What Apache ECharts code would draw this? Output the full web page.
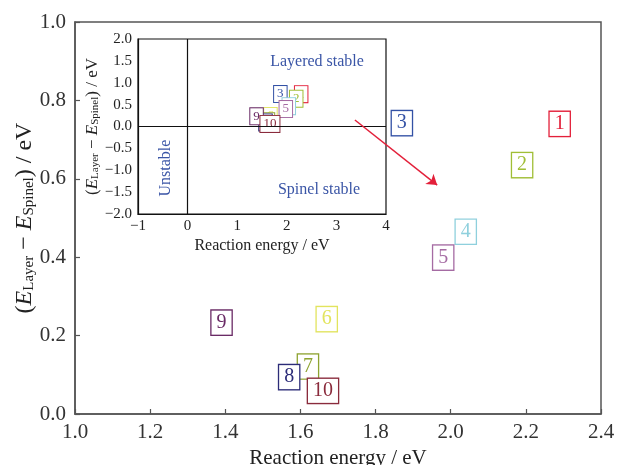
<!DOCTYPE html>
<html>
<head>
<meta charset="utf-8">
<script src="https://cdn.jsdelivr.net/npm/echarts@6/dist/echarts.min.js"></script>
<style>
  html, body { margin: 0; padding: 0; background: #fff; }
  #chart { width: 617px; height: 465px; }
</style>
</head>
<body>
<div id="chart"></div>
<script>
// sample numbers and their values
const sampleIds = ["1", "2", "3", "4", "5", "6", "7", "8", "9", "10"];
const reactionEnergy = [2.29, 2.19, 1.87, 2.04, 1.98, 1.67, 1.62, 1.57, 1.39, 1.66];
const energyDiff = [0.74, 0.635, 0.742, 0.465, 0.399, 0.242, 0.121, 0.094, 0.233, 0.059];
const sampleColors = ["#e3203a", "#a0be36", "#3351a5", "#8fd0dd", "#a56ba3",
                      "#e2e45e", "#8ea330", "#2c2c78", "#6a2b66", "#8a2b3c"];

// red arrow in the main panel (data coords)
const arrowFrom = [1.745, 0.75];
const arrowTo = [1.964, 0.584];

// inset region notes (data coords of the inset)
const insetNotes = [
  { text: "Layered stable", at: [2.61, 1.47], rotate: 0 },
  { text: "Spinel stable", at: [2.65, -1.45], rotate: 0 },
  { text: "Unstable", at: [-0.44, -0.95], rotate: 90 },
];

const serif = "Liberation Serif";
const noteBlue = "#3a55a6";

const chart = echarts.init(document.getElementById("chart"));

const boxData = () =>
  reactionEnergy.map((x, i) => ({
    value: [x, energyDiff[i]],
    name: sampleIds[i],
    label: { color: sampleColors[i], borderColor: sampleColors[i] },
  }));

const minusFmt = (digits) => (v) =>
  (v < 0 ? "\u2212" : "") + Math.abs(v).toFixed(digits);

const yName = (big, small) => ({
  name: "{p|(}{i|E}{s|Layer}{p| \u2212 }{i|E}{s|Spinel}{p|) / eV}",
  nameMoveOverlap: false,
  nameTextStyle: {
    fontFamily: serif,
    color: "#222",
    rich: {
      p: { fontFamily: serif, fontSize: big, color: "#222", verticalAlign: "bottom", lineHeight: big + 4 },
      i: { fontFamily: serif, fontSize: big, fontStyle: "italic", color: "#222", verticalAlign: "bottom", lineHeight: big + 4 },
      s: { fontFamily: serif, fontSize: small, color: "#222", verticalAlign: "bottom", lineHeight: small },
    },
  },
});

const option = {
  backgroundColor: "#fff",
  animation: false,
  grid: [
    { left: 75, right: 16, top: 22, bottom: 51, show: true, borderColor: "#555", borderWidth: 1.5,
      outerBoundsMode: "none", containLabel: false },
    { left: 138, right: 231, top: 39, bottom: 251, show: true, borderColor: "#111", borderWidth: 1.2,
      outerBoundsMode: "none", containLabel: false },
  ],
  xAxis: [
    {
      gridIndex: 0, type: "value", min: 1.0, max: 2.4, interval: 0.2,
      name: "Reaction energy / eV", nameLocation: "middle", nameGap: 26,
      nameTextStyle: { fontFamily: serif, fontSize: 21, color: "#222" },
      axisLine: { lineStyle: { color: "#555", width: 1.5 } },
      axisTick: { inside: true, length: 5, lineStyle: { color: "#555", width: 1.2 } },
      axisLabel: { fontFamily: serif, fontSize: 21, color: "#333", margin: 8, formatter: (v) => v.toFixed(1) },
      splitLine: { show: false },
    },
    {
      gridIndex: 1, type: "value", min: -1, max: 4, interval: 1,
      name: "Reaction energy / eV", nameLocation: "middle", nameGap: 24,
      nameTextStyle: { fontFamily: serif, fontSize: 16, color: "#222" },
      axisLine: { onZero: false, lineStyle: { color: "#111", width: 1.2 } },
      axisTick: { show: false },
      axisLabel: { fontFamily: serif, fontSize: 15, color: "#222", margin: 5, formatter: minusFmt(0) },
      splitLine: { show: false },
    },
  ],
  yAxis: [
    Object.assign({
      gridIndex: 0, type: "value", min: 0, max: 1.0, interval: 0.2,
      nameLocation: "middle", nameGap: 38, nameRotate: 90,
      axisLine: { lineStyle: { color: "#555", width: 1.5 } },
      axisTick: { inside: true, length: 5, lineStyle: { color: "#555", width: 1.2 } },
      axisLabel: { fontFamily: serif, fontSize: 21, color: "#333", margin: 9, formatter: (v) => v.toFixed(1) },
      splitLine: { show: false },
    }, yName(24, 15)),
    Object.assign({
      gridIndex: 1, type: "value", min: -2, max: 2, interval: 0.5,
      nameLocation: "middle", nameGap: 37, nameRotate: 90,
      axisLine: { onZero: false, lineStyle: { color: "#111", width: 1.2 } },
      axisTick: { show: false },
      axisLabel: { fontFamily: serif, fontSize: 15, color: "#222", margin: 6, formatter: minusFmt(1) },
      splitLine: { show: false },
    }, yName(17, 11)),
  ],
  series: [
    {
      type: "scatter", xAxisIndex: 1, yAxisIndex: 1,
      symbolSize: 1, itemStyle: { color: "rgba(0,0,0,0)", opacity: 1 },
      data: boxData(),
      label: {
        show: true, position: "inside", formatter: (p) => p.name,
        fontFamily: serif, fontSize: 13, lineHeight: 13,
        backgroundColor: "#fff", borderWidth: 1, padding: [2, 3, 1, 3],
      },
      markLine: {
        silent: true, symbol: "none", label: { show: false },
        lineStyle: { color: "#111", width: 1.2, type: "solid" },
        data: [{ xAxis: 0 }, { yAxis: 0 }],
      },
      markPoint: {
        silent: true, symbol: "circle", symbolSize: 0,
        data: insetNotes.map((n) => ({
          coord: n.at,
          label: {
            show: true, position: "inside", formatter: n.text, rotate: n.rotate,
            fontFamily: serif, fontSize: 16, color: noteBlue,
          },
        })),
      },
      z: 3,
    },
    {
      type: "scatter", xAxisIndex: 0, yAxisIndex: 0,
      symbolSize: 1, itemStyle: { color: "rgba(0,0,0,0)", opacity: 1 },
      data: boxData(),
      label: {
        show: true, position: "inside", formatter: (p) => p.name,
        fontFamily: serif, fontSize: 20, lineHeight: 20,
        backgroundColor: "#fff", borderWidth: 1.3, padding: [3, 5, 1, 5],
      },
      markLine: {
        silent: true, symbol: ["none", "arrow"], symbolSize: 10,
        label: { show: false },
        lineStyle: { color: "#e3203a", width: 1.5, type: "solid" },
        data: [[{ coord: arrowFrom }, { coord: arrowTo }]],
      },
      z: 4,
    },
  ],
};

chart.setOption(option);
</script>
</body>
</html>
